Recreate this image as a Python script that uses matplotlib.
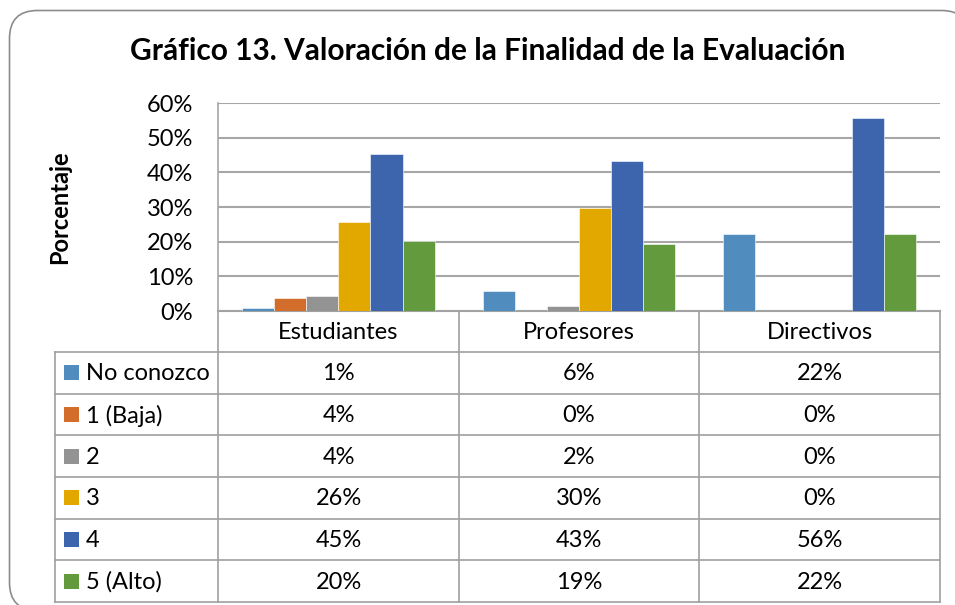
import matplotlib.pyplot as plt
from matplotlib.patches import FancyBboxPatch, Rectangle
import numpy as np

plt.rcParams["font.family"] = ["Lato", "DejaVu Sans"]

# data (percentages)
categories = ["Estudiantes", "Profesores", "Directivos"]
series = ["No conozco", "1 (Baja)", "2", "3", "4", "5 (Alto)"]
no_conozco = [0.9, 5.8, 22.2]
baja = [3.8, 0.0, 0.0]
dos = [4.2, 1.5, 0.0]
tres = [25.6, 29.8, 0.0]
cuatro = [45.2, 43.3, 55.6]
alto = [20.2, 19.3, 22.2]
values = [no_conozco, baja, dos, tres, cuatro, alto]
colors = ["#508CBE", "#D26D2B", "#939393", "#E2A800", "#3D65AD", "#639A3D"]
yticks = [0, 10, 20, 30, 40, 50, 60]

W, H = 955, 605
fig = plt.figure(figsize=(W / 100, H / 100), dpi=100)

# pixel geometry of the Excel-like layout
px_left, px_right = 218, 940
px_top, px_base = 103, 311
tbl_left, hdr_bot, tbl_bot = 55, 352, 602
col_edges = [218, 459, 699, 940]
grid_c = "#A6A6A6"
fs = 17

# overlay axes in pixel coordinates for frame, table and texts
ov = fig.add_axes([0, 0, 1, 1])
ov.set_xlim(0, W)
ov.set_ylim(H, 0)
ov.axis("off")

frame = FancyBboxPatch((9.5, 10.5), 960, 600, boxstyle="round,pad=0,rounding_size=28",
                       fc="white", ec="#8C8C8C", lw=1.2, zorder=0)
ov.add_patch(frame)

ov.text(488, 51, "Gráfico 13. Valoración de la Finalidad de la Evaluación",
        ha="center", va="center", fontsize=21.5, fontweight="bold")
ov.text(60, 207, "Porcentaje", rotation=90, ha="center", va="center",
        fontsize=17, fontweight="bold")

# bar chart
ax = fig.add_axes([px_left / W, 1 - px_base / H, (px_right - px_left) / W,
                   (px_base - px_top) / H])
x = np.arange(len(categories))
bw = 0.8 / len(series)
for i, (vals, c) in enumerate(zip(values, colors)):
    ax.bar(x - 0.4 + bw * (i + 0.5), vals, width=bw, color=c,
           edgecolor="white", linewidth=0.4, zorder=3)
ax.set_xlim(-0.5, len(categories) - 0.5)
ax.set_ylim(0, 60)
ax.set_yticks(yticks)
ax.set_yticklabels([f"{t}%" for t in yticks], fontsize=fs)
ax.tick_params(axis="y", length=0, pad=18)
ax.set_xticks([])
ax.grid(axis="y", color=grid_c, lw=1.5, zorder=0)
for s in ["top", "right", "bottom"]:
    ax.spines[s].set_visible(False)
ax.spines["left"].set_color(grid_c)
ax.spines["left"].set_linewidth(1.2)
ax.set_facecolor("none")

# data table
nrows = len(series)
row_h = (tbl_bot - hdr_bot) / nrows
lc = "#A0A0A0"
ov.plot([tbl_left, col_edges[-1]], [hdr_bot, hdr_bot], color=lc, lw=1.2, zorder=2)
ov.plot([col_edges[0], col_edges[-1]], [px_base, px_base], color=lc, lw=1.5, zorder=2)
for r in range(1, nrows + 1):
    y = hdr_bot + r * row_h
    ov.plot([tbl_left, col_edges[-1]], [y, y], color=lc, lw=1.2, zorder=2)
ov.plot([tbl_left, tbl_left], [hdr_bot, tbl_bot], color=lc, lw=1.2, zorder=2)
for xe in col_edges:
    ov.plot([xe, xe], [px_base, tbl_bot], color=lc, lw=1.2, zorder=2)

for j, cat in enumerate(categories):
    cx = (col_edges[j] + col_edges[j + 1]) / 2
    ov.text(cx, (px_base + hdr_bot) / 2 + 1, cat, ha="center", va="center", fontsize=fs)

for i, (name, vals, c) in enumerate(zip(series, values, colors)):
    cy = hdr_bot + (i + 0.5) * row_h
    ov.add_patch(Rectangle((64, cy - 7.5), 15, 15, fc=c, ec="none", zorder=3))
    ov.text(86, cy + 1, name, ha="left", va="center", fontsize=fs)
    for j, v in enumerate(vals):
        cx = (col_edges[j] + col_edges[j + 1]) / 2
        ov.text(cx, cy + 1, f"{v:.0f}%", ha="center", va="center", fontsize=fs)

fig.savefig("out.png", dpi=100)
